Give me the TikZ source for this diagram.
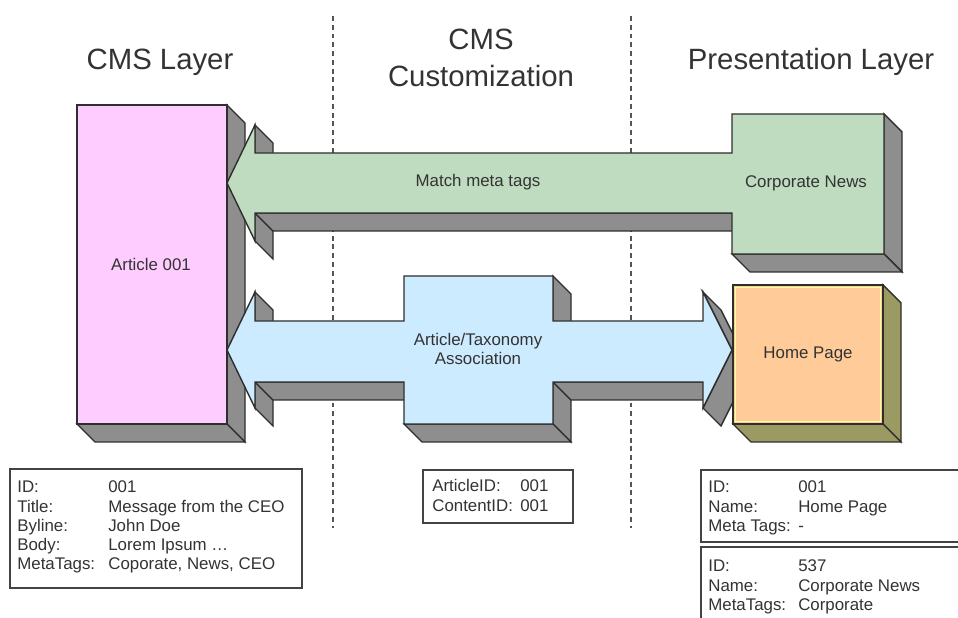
\documentclass[tikz,border=0pt]{standalone}
\usepackage{fontspec}
\setmainfont{Liberation Sans}

\definecolor{edgec}{HTML}{2E2E2E}
\definecolor{sidegrey}{HTML}{8E8E8E}
\definecolor{olive}{HTML}{9A9A62}
\definecolor{pinkf}{HTML}{FFCCFF}
\definecolor{greenf}{HTML}{C0DCC0}
\definecolor{bluef}{HTML}{CCEBFF}
\definecolor{peachf}{HTML}{FFCC99}
\definecolor{hilite}{HTML}{FFFF99}
\definecolor{textc}{HTML}{333333}
\definecolor{dashc}{HTML}{555555}

\newcommand\lblfont{\fontsize{9.6pt}{10.9pt}\selectfont}
\newcommand\ttlfont{\fontsize{16.7pt}{21.3pt}\selectfont}

\tikzset{
  face/.style={draw=edgec, line width=0.8pt, line join=miter},
  greyside/.style={face, fill=sidegrey},
  oliveside/.style={face, fill=olive},
  lanedash/.style={draw=dashc, line width=1.2pt, dash pattern=on 2.8pt off 2.2pt},
  infobox/.style={draw=edgec!90, line width=1.1pt, fill=white},
  info/.style={anchor=base west, inner sep=0pt, font=\lblfont, text=textc},
  lbl/.style={inner sep=0pt, font=\lblfont, text=textc, align=center},
  title/.style={anchor=base, inner sep=0pt, font=\ttlfont, text=textc, align=center}
}

\begin{document}
\begin{tikzpicture}[x=0.02cm, y=-0.02cm]
\useasboundingbox (0,0) rectangle (958,618);
\clip (0,0) rectangle (958,618);

% lane separators
\draw[lanedash] (333,16) -- (333,528);
\draw[lanedash] (631,16) -- (631,528);

% lane titles
\node[title] (tcms) at (160,70) {CMS Layer};
\node[title] (tcmsb) at (481,50) {CMS};
\node[title] (tcust) at (481,87) {Customization};
\node[title] (tpres) at (811,70) {Presentation Layer};

% Article 001 block
\draw[greyside] (227,105) -- (245,123) -- (245,442) -- (227,424) -- cycle;
\draw[greyside] (77,424) -- (227,424) -- (245,442) -- (95,442) -- cycle;
\draw[face, fill=pinkf] (77,105) rectangle (227,424);
\node[lbl] (article) at (151,264) {Article 001};

% Corporate News block with its arrow to the article
\draw[greyside] (255,125) -- (273,143) -- (273,171) -- (255,153) -- cycle;
\draw[greyside] (255,213) -- (255,241) -- (273,259) -- (273,231) -- cycle;
\draw[greyside] (255,213) -- (732,213) -- (750,231) -- (273,231) -- cycle;
\draw[greyside] (884,114) -- (902,132) -- (902,272) -- (884,254) -- cycle;
\draw[greyside] (732,254) -- (884,254) -- (902,272) -- (750,272) -- cycle;
\draw[face, fill=greenf] (227,183) -- (255,125) -- (255,153) -- (732,153)
  -- (732,114) -- (884,114) -- (884,254) -- (732,254) -- (732,213)
  -- (255,213) -- (255,241) -- cycle;
\node[lbl] (match) at (478,182) {Match meta tags};
\node[lbl] (corpnews) at (806,183) {Corporate News};

% Article/Taxonomy association (double arrow)
\draw[greyside] (255,292) -- (273,310) -- (273,339) -- (255,321) -- cycle;
\draw[greyside] (553,276) -- (571,294) -- (571,339) -- (553,321) -- cycle;
\draw[greyside] (255,382) -- (255,408) -- (273,426) -- (273,400) -- cycle;
\draw[greyside] (255,382) -- (404,382) -- (422,400) -- (273,400) -- cycle;
\draw[greyside] (553,382) -- (553,424) -- (571,442) -- (571,400) -- cycle;
\draw[greyside] (404,424) -- (553,424) -- (571,442) -- (422,442) -- cycle;
\draw[greyside] (553,382) -- (703,382) -- (721,400) -- (571,400) -- cycle;
\draw[greyside] (703,292) -- (732,350) -- (750,368) -- (721,310) -- cycle;
\draw[greyside] (732,350) -- (703,408) -- (721,426) -- (750,368) -- cycle;
\draw[face, fill=bluef] (227,350) -- (255,292) -- (255,321) -- (404,321)
  -- (404,276) -- (553,276) -- (553,321) -- (703,321) -- (703,292)
  -- (732,350) -- (703,408) -- (703,382) -- (553,382) -- (553,424)
  -- (404,424) -- (404,382) -- (255,382) -- (255,408) -- cycle;
\node[lbl] (assoc) at (478,349) {\fontsize{9.6pt}{10.9pt}\selectfont Article/Taxonomy\\Association};

% Home Page block
\draw[oliveside] (883,285) -- (901,303) -- (901,442) -- (883,424) -- cycle;
\draw[oliveside] (733,424) -- (883,424) -- (901,442) -- (751,442) -- cycle;
\draw[face, fill=peachf] (733,285) rectangle (883,424);
\draw[hilite, line width=0.6pt] (735.5,287.5) rectangle (880.5,421.5);
\node[lbl] (home) at (808,354) {Home Page};

% property boxes
\draw[infobox] (10,469) rectangle (302,588);
\node[info] (artprops) at (17,493) {\begin{tabular}[t]{@{}p{1.82cm}@{}l@{}}
ID: & 001\\
Title: & Message from the CEO\\
Byline: & John Doe\\
Body: & Lorem Ipsum \dots\\
MetaTags: & Coporate, News, CEO
\end{tabular}};

\draw[infobox] (423,470) rectangle (573,523);
\node[info] (linkprops) at (432,492) {\begin{tabular}[t]{@{}p{1.76cm}@{}l@{}}
ArticleID: & 001\\
ContentID: & 001
\end{tabular}};

\draw[infobox] (701,470) rectangle (975,542);
\node[info] (homeprops) at (708,493) {\begin{tabular}[t]{@{}p{1.8cm}@{}l@{}}
ID: & 001\\
Name: & Home Page\\
Meta Tags: & -
\end{tabular}};

\draw[infobox] (701,547) rectangle (975,640);
\node[info] (newsprops) at (708,572) {\begin{tabular}[t]{@{}p{1.8cm}@{}l@{}}
ID: & 537\\
Name: & Corporate News\\
MetaTags: & Corporate
\end{tabular}};
\end{tikzpicture}
\end{document}
